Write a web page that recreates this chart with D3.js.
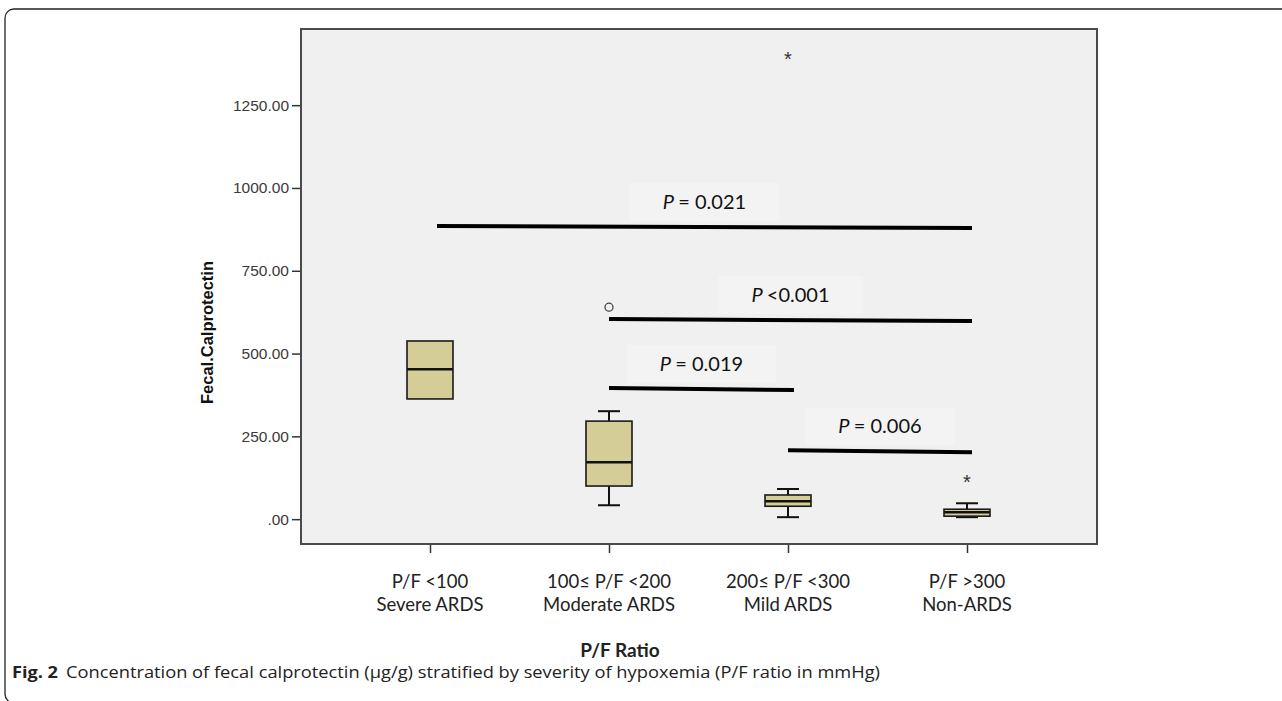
<!DOCTYPE html>
<html>
<head>
<meta charset="utf-8">
<script src="https://cdn.jsdelivr.net/npm/d3@7"></script>
<style>
  body { margin: 0; background: #fff; }
  svg { display: block; }
</style>
</head>
<body>
<svg id="chart" width="1282" height="701"></svg>
<script>
// data (fecal calprotectin, ug/g)
const categories = ["P/F <100|Severe ARDS", "100\u2264 P/F <200|Moderate ARDS", "200\u2264 P/F <300|Mild ARDS", "P/F >300|Non-ARDS"];
const whiskerLow  = [363, 42, 6, 6];
const q1          = [363, 100, 39, 9];
const median      = [453, 172, 54, 21];
const q3          = [538, 296, 73, 30];
const whiskerHigh = [538, 326, 91, 48];
const outliers = [ { cat: 1, value: 640 } ];
const extremes = [ { cat: 2, value: 1396 }, { cat: 3, value: 118 } ];
const yTicks = [0, 250, 500, 750, 1000, 1250];

// pairwise comparisons: from category, to category, bar level, label
const compFrom  = [0, 1, 1, 2];
const compTo    = [3, 3, 2, 3];
const compLevel = [882, 601, 393, 205];
const compP     = ["= 0.021", "<0.001", "= 0.019", "= 0.006"];

(function () {
const svg = d3.select("#chart");
const pLeft = 301, pRight = 1097, pTop = 29, pBottom = 544;

// outer figure frame
svg.append("rect")
  .attr("x", 5).attr("y", 9).attr("width", 1300).attr("height", 694)
  .attr("rx", 9).attr("fill", "none").attr("stroke", "#222").attr("stroke-width", 1.3);

const y = d3.scaleLinear().domain([-75, 1480]).range([pBottom, pTop]);
const x = d3.scalePoint().domain(d3.range(categories.length)).range([430, 967]);

// plot background
svg.append("rect")
  .attr("x", pLeft).attr("y", pTop).attr("width", pRight - pLeft).attr("height", pBottom - pTop)
  .attr("fill", "#f0f0f0");
const labelBg = svg.append("g");

// y axis
const yAxis = svg.append("g").attr("transform", "translate(" + (pLeft - 1) + ",0)")
  .call(d3.axisLeft(y).tickValues(yTicks).tickSize(8).tickPadding(3)
    .tickFormat(d => d === 0 ? ".00" : d.toFixed(2)));
yAxis.select(".domain").remove();
yAxis.selectAll("line").attr("stroke", "#333").attr("stroke-width", 1.5);
yAxis.selectAll("text").attr("font-family", "Liberation Sans, Arial, sans-serif")
  .attr("font-size", 15.5).attr("fill", "#3a3a3a");

// x axis ticks
const xAxis = svg.append("g").attr("transform", "translate(0," + (pBottom + 1) + ")")
  .call(d3.axisBottom(x).tickSize(8).tickFormat(""));
xAxis.select(".domain").remove();
xAxis.selectAll("line").attr("stroke", "#333").attr("stroke-width", 1.5);

// category labels (two lines)
categories.forEach((c, i) => {
  const lines = c.split("|");
  const t = svg.append("text")
    .attr("x", x(i)).attr("y", 588)
    .attr("text-anchor", "middle")
    .attr("font-family", "Lato, 'Open Sans', sans-serif")
    .attr("font-size", 18.5).attr("fill", "#222");
  lines.forEach((l, k) => {
    t.append("tspan").attr("x", x(i)).attr("dy", k === 0 ? 0 : 23).text(l);
  });
});

// plot border
svg.append("rect")
  .attr("x", pLeft).attr("y", pTop).attr("width", pRight - pLeft).attr("height", pBottom - pTop)
  .attr("fill", "none").attr("stroke", "#4a4a4a").attr("stroke-width", 2);

// boxes
const boxW = 46, capW = 22;
const boxes = svg.append("g");
categories.forEach((c, i) => {
  const cx = x(i);
  const g = boxes.append("g");
  if (whiskerHigh[i] > q3[i]) {
    g.append("line").attr("x1", cx).attr("x2", cx).attr("y1", y(q3[i])).attr("y2", y(whiskerHigh[i]));
    g.append("line").attr("x1", cx - capW / 2).attr("x2", cx + capW / 2)
      .attr("y1", y(whiskerHigh[i])).attr("y2", y(whiskerHigh[i]));
  }
  if (whiskerLow[i] < q1[i]) {
    g.append("line").attr("x1", cx).attr("x2", cx).attr("y1", y(q1[i])).attr("y2", y(whiskerLow[i]));
    g.append("line").attr("x1", cx - capW / 2).attr("x2", cx + capW / 2)
      .attr("y1", y(whiskerLow[i])).attr("y2", y(whiskerLow[i]));
  }
  g.selectAll("line").attr("stroke", "#111").attr("stroke-width", 2);
  g.append("rect")
    .attr("x", cx - boxW / 2).attr("y", y(q3[i]))
    .attr("width", boxW).attr("height", y(q1[i]) - y(q3[i]))
    .attr("fill", "#d4cd98");
  g.append("line").attr("x1", cx - boxW / 2).attr("x2", cx + boxW / 2)
    .attr("y1", y(median[i])).attr("y2", y(median[i]))
    .attr("stroke", "#111").attr("stroke-width", 2.5);
  g.append("rect")
    .attr("x", cx - boxW / 2).attr("y", y(q3[i]))
    .attr("width", boxW).attr("height", y(q1[i]) - y(q3[i]))
    .attr("fill", "none").attr("stroke", "#1a1a1a").attr("stroke-width", 1.6);
});

// outliers and extremes
svg.selectAll(".outlier").data(outliers).enter().append("circle")
  .attr("class", "outlier")
  .attr("cx", d => x(d.cat)).attr("cy", d => y(d.value)).attr("r", 4)
  .attr("fill", "none").attr("stroke", "#444").attr("stroke-width", 1.3);
svg.selectAll(".extreme").data(extremes).enter().append("text")
  .attr("class", "extreme")
  .attr("x", d => x(d.cat)).attr("y", d => y(d.value) + 9)
  .attr("text-anchor", "middle")
  .attr("font-family", "Liberation Sans, Arial, sans-serif")
  .attr("font-size", 20).attr("fill", "#333").text("*");

// significance bars
compFrom.forEach((f, i) => {
  const x1 = x(f) + (f === 0 ? 7 : 0), x2 = x(compTo[i]) + (compTo[i] === 3 ? 5 : 6);
  const yy = y(compLevel[i]);
  const mid = (x1 + x2) / 2;
  const lbl = svg.append("text")
    .attr("x", mid).attr("y", yy - 18)
    .attr("text-anchor", "middle")
    .attr("font-family", "Lato, 'Open Sans', sans-serif")
    .attr("font-size", 20).attr("fill", "#111");
  lbl.append("tspan").attr("font-style", "italic").text("P ");
  lbl.append("tspan").text(compP[i]);
  const bb = lbl.node().getBBox();
  labelBg.append("rect")
    .attr("x", bb.x - 33).attr("y", bb.y - 6).attr("width", bb.width + 66).attr("height", bb.height + 14)
    .attr("fill", "#f3f3f3");
  svg.append("line")
    .attr("x1", x1).attr("x2", x2).attr("y1", yy - 1).attr("y2", yy + 1)
    .attr("stroke", "#000").attr("stroke-width", 4);
});

// axis titles
svg.append("text")
  .attr("transform", "translate(213," + ((pTop + pBottom) / 2 + 46) + ") rotate(-90)")
  .attr("text-anchor", "middle")
  .attr("font-family", "Liberation Sans, Arial, sans-serif")
  .attr("font-weight", "bold").attr("font-size", 16.5).attr("fill", "#111")
  .text("Fecal.Calprotectin");
svg.append("text")
  .attr("x", 620).attr("y", 657).attr("text-anchor", "middle")
  .attr("font-family", "Lato, 'Open Sans', sans-serif")
  .attr("font-weight", "bold").attr("font-size", 19).attr("fill", "#222")
  .text("P/F Ratio");

// caption
svg.append("text").attr("x", 12).attr("y", 678)
  .attr("font-family", "'Open Sans', Lato, sans-serif").attr("font-size", 16)
  .attr("font-weight", "bold").attr("fill", "#222")
  .attr("textLength", 46).attr("lengthAdjust", "spacingAndGlyphs")
  .text("Fig. 2");
svg.append("text").attr("x", 66).attr("y", 678)
  .attr("font-family", "'Open Sans', Lato, sans-serif").attr("font-size", 16).attr("fill", "#222")
  .attr("textLength", 814).attr("lengthAdjust", "spacingAndGlyphs")
  .text("Concentration of fecal calprotectin (\u03bcg/g) stratified by severity of hypoxemia (P/F ratio in mmHg)");
})();
</script>
</body>
</html>
